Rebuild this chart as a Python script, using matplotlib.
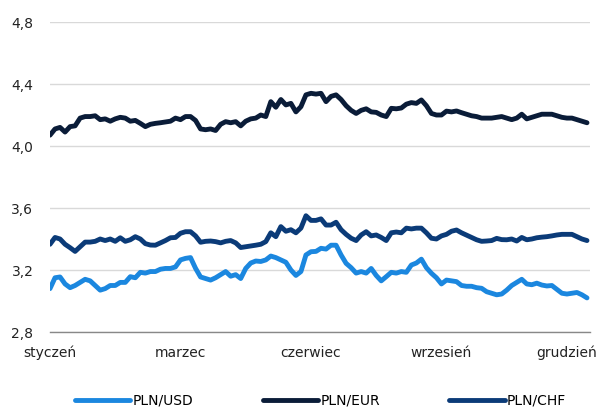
import matplotlib
matplotlib.use("Agg")
import matplotlib.pyplot as plt
from matplotlib.ticker import FuncFormatter, FixedLocator
import numpy as np

plt.rcParams['font.family'] = ['DejaVu Sans']

month_labels = ["styczeń", "marzec", "czerwiec", "wrzesień", "grudzień"]
month_label_idx = [0, 26, 52, 78, 103]

pln_usd = [3.08, 3.15, 3.155, 3.11, 3.086, 3.10, 3.12, 3.14, 3.13, 3.10,
           3.07, 3.08, 3.10, 3.10, 3.12, 3.12, 3.157, 3.15, 3.185, 3.18,
           3.19, 3.19, 3.205, 3.21, 3.21, 3.22, 3.265, 3.275, 3.28, 3.211,
           3.155, 3.145, 3.135, 3.15, 3.17, 3.19, 3.16, 3.17, 3.145, 3.21,
           3.245, 3.258, 3.255, 3.265, 3.29, 3.28, 3.265, 3.25, 3.20, 3.165,
           3.19, 3.297, 3.318, 3.32, 3.34, 3.335, 3.36, 3.36, 3.297, 3.243,
           3.215, 3.18, 3.19, 3.18, 3.21, 3.165, 3.13, 3.157, 3.185, 3.18,
           3.19, 3.185, 3.232, 3.245, 3.27, 3.215, 3.179, 3.15, 3.11, 3.135,
           3.13, 3.125, 3.10, 3.095, 3.095, 3.086, 3.082, 3.06, 3.05, 3.04,
           3.045, 3.07, 3.10, 3.12, 3.14, 3.11, 3.105, 3.115, 3.103, 3.097,
           3.10, 3.075, 3.05, 3.045, 3.05, 3.055, 3.04, 3.02]

pln_eur = [4.07, 4.11, 4.12, 4.09, 4.125, 4.13, 4.18, 4.19, 4.19, 4.195,
           4.17, 4.175, 4.16, 4.175, 4.185, 4.18, 4.16, 4.165, 4.146, 4.125,
           4.14, 4.146, 4.15, 4.155, 4.16, 4.18, 4.17, 4.19, 4.19, 4.165,
           4.11, 4.105, 4.11, 4.10, 4.14, 4.157, 4.15, 4.157, 4.13, 4.16,
           4.175, 4.18, 4.20, 4.19, 4.286, 4.25, 4.30, 4.265, 4.275, 4.22,
           4.254, 4.33, 4.34, 4.335, 4.34, 4.286, 4.32, 4.33, 4.30, 4.26,
           4.23, 4.21, 4.23, 4.24, 4.22, 4.217, 4.20, 4.19, 4.243, 4.24,
           4.245, 4.27, 4.28, 4.275, 4.297, 4.26, 4.21, 4.20, 4.20, 4.225,
           4.22, 4.226, 4.215, 4.205, 4.195, 4.19, 4.18, 4.18, 4.18, 4.185,
           4.19, 4.18, 4.17, 4.18, 4.205, 4.175, 4.185, 4.195, 4.205, 4.205,
           4.205, 4.195, 4.185, 4.18, 4.18, 4.17, 4.16, 4.15]

pln_chf = [3.366, 3.41, 3.40, 3.366, 3.344, 3.32, 3.35, 3.38, 3.38, 3.385,
           3.40, 3.39, 3.40, 3.385, 3.408, 3.385, 3.395, 3.415, 3.40, 3.37,
           3.361, 3.36, 3.375, 3.39, 3.408, 3.41, 3.437, 3.447, 3.447, 3.42,
           3.379, 3.385, 3.387, 3.383, 3.375, 3.385, 3.39, 3.375, 3.345, 3.35,
           3.355, 3.36, 3.366, 3.383, 3.44, 3.415, 3.48, 3.45, 3.46, 3.44,
           3.47, 3.55, 3.52, 3.52, 3.53, 3.49, 3.49, 3.508, 3.46, 3.43,
           3.405, 3.39, 3.426, 3.447, 3.42, 3.426, 3.41, 3.39, 3.44, 3.445,
           3.44, 3.47, 3.465, 3.47, 3.47, 3.44, 3.405, 3.40, 3.42, 3.43,
           3.45, 3.458, 3.44, 3.425, 3.41, 3.395, 3.385, 3.387, 3.39, 3.404,
           3.396, 3.395, 3.40, 3.387, 3.41, 3.395, 3.40, 3.408, 3.412, 3.415,
           3.42, 3.426, 3.43, 3.43, 3.43, 3.415, 3.40, 3.39]

y_ticks = [2.8, 3.2, 3.6, 4.0, 4.4, 4.8]

series = [("PLN/USD", pln_usd, "#1B87DF"),
          ("PLN/EUR", pln_eur, "#0A1C38"),
          ("PLN/CHF", pln_chf, "#0B3B78")]

fig = plt.figure(figsize=(5.99, 4.07), dpi=100)
ax = fig.add_axes([50/599, 1-332/407, 540/599, 310/407])

for name, vals, col in series:
    x = np.arange(len(vals))
    ax.plot(x, vals, color=col, lw=3.5, label=name, solid_capstyle='round',
            solid_joinstyle='round')

n = len(pln_usd)
ax.set_xlim(0, n - 1 + 0.6)
ax.set_ylim(2.8, 4.8)
ax.yaxis.set_major_locator(FixedLocator(y_ticks))
ax.yaxis.set_major_formatter(FuncFormatter(lambda v, p: f"{v:.1f}".replace(".", ",")))
ax.set_xticks(month_label_idx)
ax.set_xticklabels(month_labels)
ax.tick_params(axis='both', length=0, labelsize=10, colors='#222222')
ax.tick_params(axis='y', pad=12)
ax.tick_params(axis='x', pad=10)
ax.grid(axis='y', color='#d9d9d9', lw=1)
ax.set_axisbelow(True)
for s in ['top', 'right', 'left']:
    ax.spines[s].set_visible(False)
ax.spines['bottom'].set_color('#888888')
ax.spines['bottom'].set_linewidth(1)

fig.legend(loc='center', bbox_to_anchor=(0.535, 1 - 401/407), ncol=3,
           frameon=False, fontsize=10, handlelength=4.0, handletextpad=0.15,
           columnspacing=5.0)

fig.savefig("out.png", dpi=100)
